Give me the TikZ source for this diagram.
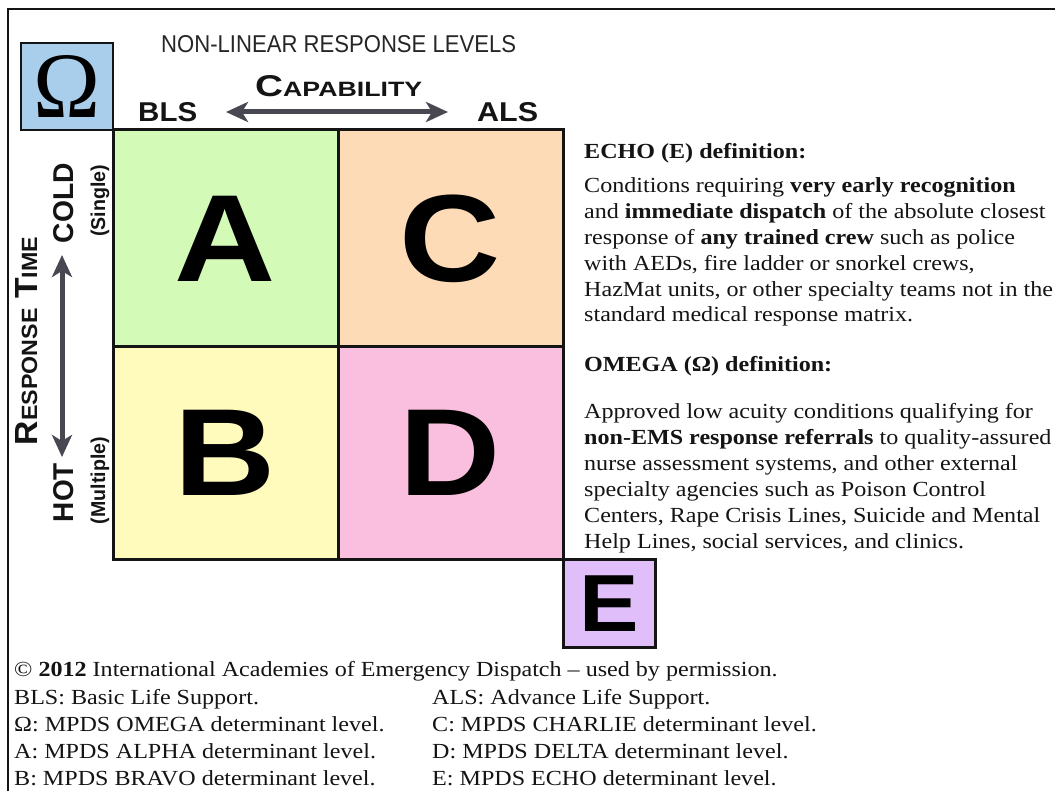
\documentclass[tikz,border=0pt]{standalone}
\usepackage{fontspec}
\usepackage{graphicx}
\setmainfont{Liberation Serif}
\newfontfamily\bodyfont[FakeStretch=1.12]{Liberation Serif}
\newfontfamily\sansfont{Liberation Sans}
\usetikzlibrary{arrows.meta}
\definecolor{omegablue}{RGB}{168,206,236}
\definecolor{cellA}{RGB}{212,250,184}
\definecolor{cellC}{RGB}{253,219,183}
\definecolor{cellB}{RGB}{255,251,188}
\definecolor{cellD}{RGB}{250,190,222}
\definecolor{echopurple}{RGB}{224,190,250}
\definecolor{arrowgray}{RGB}{72,72,82}
\definecolor{inkcol}{RGB}{20,20,20}
\tikzset{
  cellbox/.style={draw=inkcol, line width=3pt, inner sep=0pt, text=black},
  plain/.style={inner sep=0pt, text=inkcol},
  vlabel/.style={inner sep=0pt, text=inkcol, rotate=90, anchor=base},
  rtext/.style={anchor=base west, inner sep=0pt, text=inkcol, font=\bodyfont\fontsize{21.5}{26}\selectfont},
  bigarrow/.style={line width=5pt, draw=arrowgray,
     {Stealth[length=22pt,width=20pt,inset=6pt]}-{Stealth[length=22pt,width=20pt,inset=6pt]}},
}
\begin{document}
\begin{tikzpicture}[x=1pt,y=-1pt]
\useasboundingbox (0,0) rectangle (1055,791);
\fill[white] (0,0) rectangle (1055,791);
% outer frame
\draw[inkcol, line width=1.5pt] (8,800) -- (8,9) -- (1065,9);

% Omega box
\node[cellbox, line width=2pt, fill=omegablue, minimum width=92pt, minimum height=87pt] (om) at (67,86.5)
  {\raisebox{-2.5pt}{\resizebox{67pt}{62pt}{Ω}}};

% title
\node[plain, anchor=base west, text=black!85] (title) at (161,53)
  {\resizebox{355pt}{17pt}{\sansfont NON-LINEAR RESPONSE LEVELS}};

% capability
\node[plain, anchor=base west] (cap) at (255,97)
  {\resizebox{167pt}{21pt}{\sansfont\bfseries{\fontsize{10}{12}\selectfont C}{\fontsize{6.9}{8}\selectfont APABILITY}}};
\node[plain, anchor=base west] (bls) at (138,122) {\resizebox{59pt}{19pt}{\sansfont\bfseries BLS}};
\node[plain, anchor=base west] (als) at (477,122) {\resizebox{61pt}{19pt}{\sansfont\bfseries ALS}};
\coordinate (capL) at (226,112);
\coordinate (capR) at (448,112);
\draw[bigarrow] (capL) -- (capR);

% response time
\node[vlabel] (rt) at (37,341)
  {\resizebox{208pt}{22pt}{\sansfont\bfseries{\fontsize{10}{12}\selectfont R}{\fontsize{6.9}{9}\selectfont ESPONSE} {\fontsize{10}{12}\selectfont T}{\fontsize{6.9}{9}\selectfont IME}}};
\node[vlabel] (cold) at (73,203) {\resizebox{80pt}{20pt}{\sansfont\bfseries COLD}};
\node[vlabel] (single) at (105,201) {\resizebox{72pt}{14.5pt}{\sansfont\bfseries (Single)}};
\node[vlabel] (hot) at (73,492.5) {\resizebox{59pt}{20pt}{\sansfont\bfseries HOT}};
\node[vlabel] (multiple) at (105,480.5) {\resizebox{87pt}{14.5pt}{\sansfont\bfseries (Multiple)}};
\coordinate (rtT) at (62,255);
\coordinate (rtB) at (62,457);
\draw[bigarrow] (rtT) -- (rtB);

% matrix cells
\node[cellbox, fill=cellA, minimum width=225pt, minimum height=217pt] (A) at (225.5,238.5)
  {\scalebox{1.13}[1]{\sansfont\bfseries\fontsize{124}{124}\selectfont A}};
\node[cellbox, fill=cellC, minimum width=225pt, minimum height=217pt] (C) at (450.5,238.5)
  {\scalebox{1.13}[1]{\sansfont\bfseries\fontsize{124}{124}\selectfont C}};
\node[cellbox, fill=cellB, minimum width=225pt, minimum height=212pt] (B) at (225.5,453)
  {\scalebox{1.13}[1]{\sansfont\bfseries\fontsize{124}{124}\selectfont B}};
\node[cellbox, fill=cellD, minimum width=225pt, minimum height=212pt] (D) at (450.5,453)
  {\scalebox{1.13}[1]{\sansfont\bfseries\fontsize{124}{124}\selectfont D}};

% E box
\node[cellbox, fill=echopurple, minimum width=92pt, minimum height=88pt] (E) at (609,603.5)
  {\scalebox{1.1}[1]{\sansfont\bfseries\fontsize{81}{81}\selectfont E}};

% right text
\node[rtext] (echoh) at (584,159) {\textbf{ECHO (E) definition:}};
\node[rtext] (e1) at (584,193) {Conditions requiring \textbf{very early recognition}};
\node[rtext] (e2) at (584,219) {and \textbf{immediate dispatch} of the absolute closest};
\node[rtext] (e3) at (584,245) {response of \textbf{any trained crew} such as police};
\node[rtext] (e4) at (584,271) {with AEDs, fire ladder or snorkel crews,};
\node[rtext] (e5) at (584,297) {HazMat units, or other specialty teams not in the};
\node[rtext] (e6) at (584,322) {standard medical response matrix.};
\node[rtext] (omh) at (584,372) {\textbf{OMEGA (Ω) definition:}};
\node[rtext] (o1) at (584,418) {Approved low acuity conditions qualifying for};
\node[rtext] (o2) at (584,444) {\textbf{non-EMS response referrals} to quality-assured};
\node[rtext] (o3) at (584,470) {nurse assessment systems, and other external};
\node[rtext] (o4) at (584,496.5) {specialty agencies such as Poison Control};
\node[rtext] (o5) at (584,522.5) {Centers, Rape Crisis Lines, Suicide and Mental};
\node[rtext] (o6) at (584,548.5) {Help Lines, social services, and clinics.};

% bottom text
\node[rtext] (copy) at (14,676) {© \textbf{2012} International Academies of Emergency Dispatch – used by permission.};
\node[rtext] (l1) at (14,704) {BLS: Basic Life Support.};
\node[rtext] (l2) at (14,731) {Ω: MPDS OMEGA determinant level.};
\node[rtext] (l3) at (14,758) {A: MPDS ALPHA determinant level.};
\node[rtext] (l4) at (14,785) {B: MPDS BRAVO determinant level.};
\node[rtext] (r1) at (432,704) {ALS: Advance Life Support.};
\node[rtext] (r2) at (432,731) {C: MPDS CHARLIE determinant level.};
\node[rtext] (r3) at (432,758) {D: MPDS DELTA determinant level.};
\node[rtext] (r4) at (432,785) {E: MPDS ECHO determinant level.};
\end{tikzpicture}
\end{document}
